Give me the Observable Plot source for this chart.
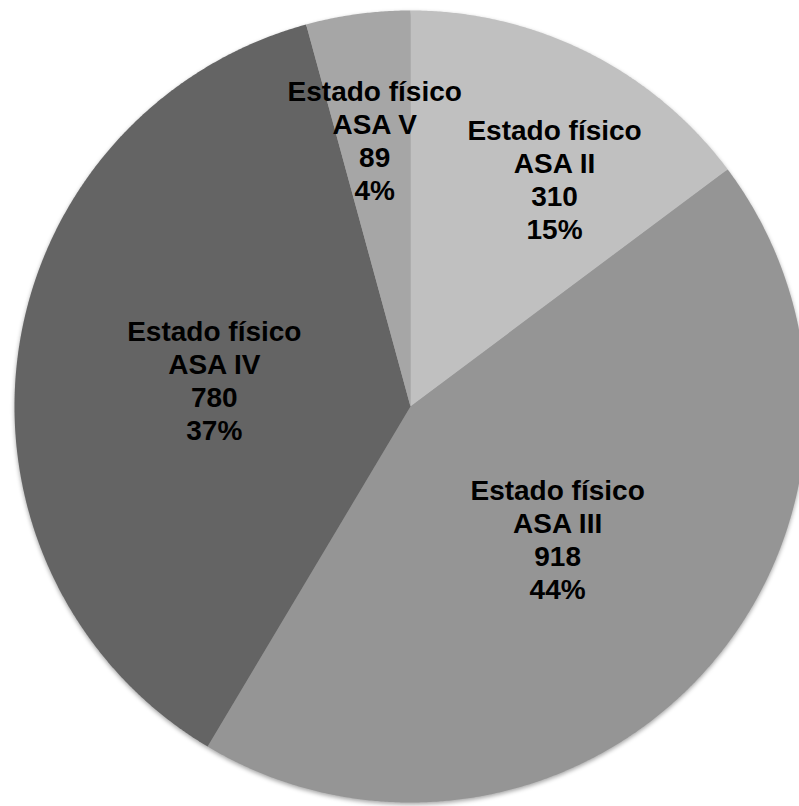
<!DOCTYPE html>
<html>
<head>
<meta charset="utf-8">
<script src="https://cdn.jsdelivr.net/npm/d3@7"></script>
<script src="https://cdn.jsdelivr.net/npm/@observablehq/plot@0.6"></script>
<style>
  html, body { margin: 0; padding: 0; background: #fff; }
  #chart svg { display: block; }
  .slices { filter: drop-shadow(0px 2px 2px rgba(0,0,0,0.35)); }
</style>
</head>
<body>
<div id="chart"></div>
<script>
// ---- data ----
const categories = ["ASA II", "ASA III", "ASA IV", "ASA V"];
const values = [310, 918, 780, 89];
const labelPrefix = "Estado físico";
const palette = ["#c0c0c0", "#959595", "#646464", "#a6a6a6"];

// ---- layout ----
const W = 799, H = 806;
const R = 396, CX = 410, CY = 406; // pie radius & center in px

const total = d3.sum(values);
const pie = d3.pie().sort(null).value(d => d.value);
const arcs = pie(categories.map((c, i) => ({name: c, value: values[i]})));

// polygon points for each slice (unit circle, y up, clockwise from 12 o'clock)
const polyPts = [];
for (const a of arcs) {
  const n = Math.max(2, Math.ceil((a.endAngle - a.startAngle) / 0.005));
  polyPts.push({name: a.data.name, x: 0, y: 0});
  for (let k = 0; k <= n; k++) {
    const t = a.startAngle + (a.endAngle - a.startAngle) * k / n;
    polyPts.push({name: a.data.name, x: Math.sin(t), y: Math.cos(t)});
  }
  polyPts.push({name: a.data.name, x: 0, y: 0});
}

// labels: big slices at half radius, small slices further out ("best fit"),
// nudged clockwise toward the wider part of the wedge
const labels = arcs.map(a => {
  const share = a.value / total;
  let mid = (a.startAngle + a.endAngle) / 2;
  const small = share < 0.2;
  const r = small ? 0.68 : 0.5;
  if (small && a.index === 0) mid += 0.1;
  return {
    name: a.data.name,
    x: r * Math.sin(mid),
    y: r * Math.cos(mid),
    text: `${labelPrefix}\n${a.data.name}\n${a.value}\n${Math.round(share * 100)}%`
  };
});

const chart = Plot.plot({
  width: W,
  height: H,
  margin: 0,
  x: {domain: [-CX / R, (W - CX) / R], axis: null},
  y: {domain: [-(H - CY) / R, CY / R], axis: null},
  color: {domain: categories, range: palette},
  style: {fontFamily: "'Liberation Sans', Arial, sans-serif", background: "white"},
  marks: [
    Plot.line(polyPts, {x: "x", y: "y", z: "name", fill: "name", stroke: null, curve: "linear", className: "slices"}),
    Plot.text(labels, {
      x: "x", y: "y", text: "text",
      fontSize: 28, fontWeight: "bold", fill: "black",
      lineHeight: 1.18, lineAnchor: "middle", textAnchor: "middle"
    })
  ]
});
document.getElementById("chart").appendChild(chart);
</script>
</body>
</html>
